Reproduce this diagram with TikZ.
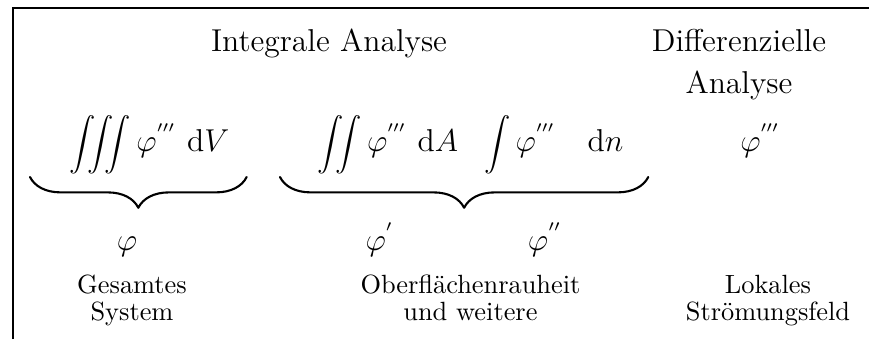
\documentclass[tikz,border=0pt]{standalone}
\usepackage{amsmath,amssymb}
\usepackage{tikz}
\usetikzlibrary{decorations.pathreplacing}
\newcommand{\anint}[1]{{\normalsize$\displaystyle#1$}}
\tikzset{
  an diagram/.style={line cap=round, line join=round},
  an frame/.style={draw, line width=1pt, line cap=butt, line join=miter},
  an head/.style={font=\large, align=center, anchor=base, inner sep=0pt},
  an formula/.style={font=\large, anchor=base, inner sep=0pt},
  an brace/.style={draw, thick, decorate,
    decoration={brace, mirror, amplitude=0.41cm}},
  an label/.style={font=\normalsize, align=center, anchor=base, inner sep=0pt}
}

\begin{document}
\begin{tikzpicture}[an diagram]
\useasboundingbox (0,0) rectangle (11.587,-4.52);
% frame, cut at the right and the bottom
\coordinate (frame bl) at (0.173,-4.52);
\coordinate (frame tr) at (11.587,-0.107);
\draw[an frame] (frame bl) |- (frame tr);
% headings (base = last line)
\node[an head] (int head) at (4.387,-0.693) {Integrale Analyse};
\node[an head] (diff head) at (9.853,-1.253) {Differenzielle\\[2.2pt]Analyse};
% integrals
\node[an formula] (vol) at (1.993,-2.02) {\anint{\iiint}$\,\varphi^{'''}\ \mathrm{d}V$};
\node[an formula] (surf) at (5.173,-2.02) {\anint{\iint}$\,\varphi^{'''}\ \mathrm{d}A$};
\node[an formula] (line) at (7.383,-2.02) {\anint{\int}$\,\varphi^{'''}\quad\mathrm{d}n$};
\node[an formula] (loc) at (10.14,-2.02) {$\varphi^{'''}$};
% braces
\coordinate (vol l) at (0.40,-2.36);
\coordinate (vol r) at (3.289,-2.36);
\coordinate (surf l) at (3.733,-2.36);
\coordinate (surf r) at (8.644,-2.36);
\draw[an brace] (vol l) -- (vol r);
\draw[an brace] (surf l) -- (surf r);
% quantities
\node[an formula] (phi0) at (1.693,-3.337) {$\varphi$};
\node[an formula] (phi1) at (5.067,-3.337) {$\varphi^{'}$};
\node[an formula] (phi2) at (7.27,-3.337) {$\varphi^{''}$};
% labels
\node[an label] (sys) at (1.76,-4.267) {Gesamtes\\[-2.1pt]System};
\node[an label] (rough) at (6.273,-4.267) {Oberflächenrauheit\\[-2.1pt]und weitere};
\node[an label] (field) at (10.24,-4.267) {Lokales\\[-2.1pt]Strömungsfeld};
\end{tikzpicture}
\end{document}
